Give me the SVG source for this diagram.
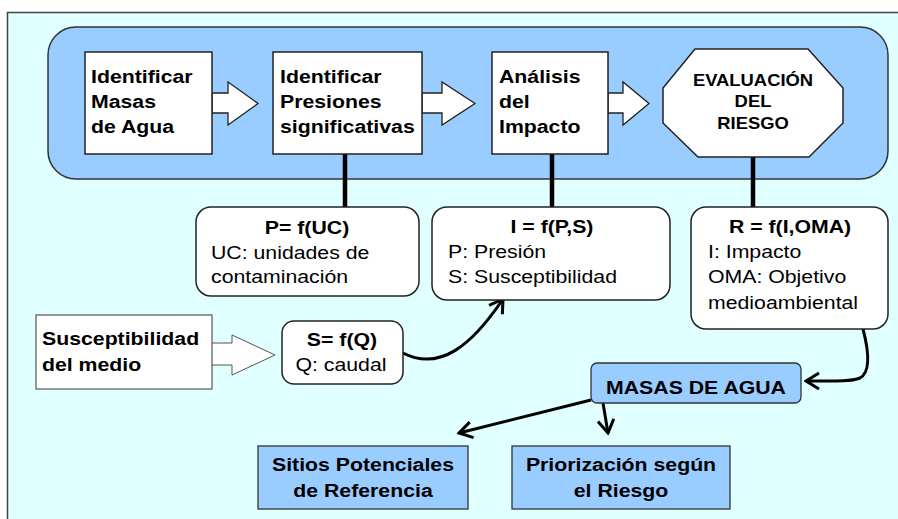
<svg xmlns="http://www.w3.org/2000/svg" width="898" height="519" viewBox="0 0 898 519">
<defs>
<style>
text{font-family:"Liberation Sans",Arial,sans-serif;fill:#000}
.b{font-weight:bold;font-size:18.5px}
.r{font-size:18.5px}
.o{font-weight:bold;font-size:16px}
.m{text-anchor:middle}
.box{fill:#fff;stroke:#222;stroke-width:1.5}
.blue{fill:#99ccff;stroke:#333;stroke-width:1.3}
.barrow{fill:#fff;stroke:#222;stroke-width:1.3;stroke-linejoin:miter}
.stem{stroke:#000;stroke-width:4.5;fill:none}
.con{stroke:#000;stroke-width:3;fill:none;marker-end:url(#v)}
</style>
<marker id="v" markerUnits="userSpaceOnUse" viewBox="-16 -10 18 20" refX="0" refY="0" markerWidth="18" markerHeight="20" orient="auto">
<path d="M-13,-8 L0,0 L-13,8" fill="none" stroke="#000" stroke-width="3" stroke-linejoin="miter"/>
</marker>
</defs>
<rect x="0" y="0" width="898" height="519" fill="#fff"/>
<rect x="7.5" y="12.5" width="900" height="520" fill="#e0ffff" stroke="#444" stroke-width="1.5"/>
<g id="process-band">
<rect x="48" y="27" width="840" height="152" rx="28" ry="28" fill="#99ccff" stroke="#333" stroke-width="1.5"/>
</g>
<g id="connectors">
<path class="barrow" d="M212,93 H228 V82 L258,103.5 L228,125 V113 H212 Z"/>
<path class="barrow" d="M422,93 H442 V82 L475,103.5 L442,125 V113 H422 Z"/>
<path class="barrow" d="M608,93 H623 V82 L649,103.5 L623,125 V113 H608 Z"/>
<path d="M210,343 H232 V335 L275,355 L232,375 V365 H210 Z" fill="#fff" stroke="#555" stroke-width="1"/>
<line class="stem" x1="345" y1="154" x2="345" y2="207"/>
<line class="stem" x1="552" y1="154" x2="552" y2="207"/>
<line class="stem" x1="753" y1="157" x2="753" y2="207"/>
<path class="con" d="M403,353 C440,372 472,345 503,299"/>
<path class="con" d="M863,329 C869,352 871,372 860,378 C850,382 830,381 806,381"/>
<path class="con" d="M591,400 L459,433"/>
<path class="con" d="M603,403 L608,433"/>
</g>
<g id="n1">
<rect class="box" x="85" y="52" width="127" height="102"/>
<text class="b" transform="matrix(1.15 0 0 1 91 83)">Identificar</text>
<text class="b" transform="matrix(1.15 0 0 1 91 108)">Masas</text>
<text class="b" transform="matrix(1.15 0 0 1 91 133)">de Agua</text>
</g>
<g id="n2">
<rect class="box" x="273" y="52" width="149" height="102"/>
<text class="b" transform="matrix(1.15 0 0 1 280 83)">Identificar</text>
<text class="b" transform="matrix(1.15 0 0 1 280 108)">Presiones</text>
<text class="b" transform="matrix(1.15 0 0 1 280 133)">significativas</text>
</g>
<g id="n3">
<rect class="box" x="492" y="52" width="116" height="102"/>
<text class="b" transform="matrix(1.15 0 0 1 499 83)">Análisis</text>
<text class="b" transform="matrix(1.15 0 0 1 499 108)">del</text>
<text class="b" transform="matrix(1.15 0 0 1 499 133)">Impacto</text>
</g>
<g id="n4">
<polygon class="box" points="695,49 808,49 843,88 843,123 809,157 698,157 663,123 663,88"/>
<text class="o m" transform="matrix(1.15 0 0 1 753 86)">EVALUACIÓN</text>
<text class="o m" transform="matrix(1.15 0 0 1 753 107)">DEL</text>
<text class="o m" transform="matrix(1.15 0 0 1 753 129)">RIESGO</text>
</g>
<g id="p-box">
<rect class="box" x="196" y="207" width="223" height="89" rx="15" ry="15"/>
<text class="b m" transform="matrix(1.15 0 0 1 307 234)">P= f(UC)</text>
<text class="r" transform="matrix(1.15 0 0 1 211 259)">UC: unidades de</text>
<text class="r" transform="matrix(1.15 0 0 1 211 283)">contaminación</text>
</g>
<g id="i-box">
<rect class="box" x="432" y="207" width="238" height="93" rx="15" ry="15"/>
<text class="b m" transform="matrix(1.15 0 0 1 552 233)">I = f(P,S)</text>
<text class="r" transform="matrix(1.15 0 0 1 448 258)">P: Presión</text>
<text class="r" transform="matrix(1.15 0 0 1 448 283)">S: Susceptibilidad</text>
</g>
<g id="r-box">
<rect class="box" x="691" y="207" width="197" height="122" rx="15" ry="15"/>
<text class="b m" transform="matrix(1.15 0 0 1 790 233)">R = f(I,OMA)</text>
<text class="r" transform="matrix(1.15 0 0 1 708 258)">I: Impacto</text>
<text class="r" transform="matrix(1.15 0 0 1 708 283)">OMA: Objetivo</text>
<text class="r" transform="matrix(1.15 0 0 1 708 309)">medioambiental</text>
</g>
<g id="susceptibilidad">
<rect x="36" y="315" width="176" height="74" fill="#fff" stroke="#555" stroke-width="1.2"/>
<text class="b" transform="matrix(1.15 0 0 1 42 345)">Susceptibilidad</text>
<text class="b" transform="matrix(1.15 0 0 1 42 371)">del medio</text>
</g>
<g id="s-box">
<rect class="box" x="282" y="321" width="121" height="63" rx="12" ry="12"/>
<text class="b m" transform="matrix(1.15 0 0 1 342 346)">S= f(Q)</text>
<text class="r m" transform="matrix(1.15 0 0 1 341 371)">Q: caudal</text>
</g>
<g id="masas">
<rect class="blue" x="591" y="363" width="210" height="40" rx="6" ry="6"/>
<text class="b m" transform="matrix(1.15 0 0 1 696 394)">MASAS DE AGUA</text>
</g>
<g id="sitios">
<rect class="blue" x="258" y="446" width="210" height="63"/>
<text class="b m" transform="matrix(1.15 0 0 1 363 471)">Sitios Potenciales</text>
<text class="b m" transform="matrix(1.15 0 0 1 363 497)">de Referencia</text>
</g>
<g id="priorizacion">
<rect class="blue" x="512" y="446" width="218" height="63"/>
<text class="b m" transform="matrix(1.15 0 0 1 621 471)">Priorización según</text>
<text class="b m" transform="matrix(1.15 0 0 1 621 497)">el Riesgo</text>
</g>
</svg>
